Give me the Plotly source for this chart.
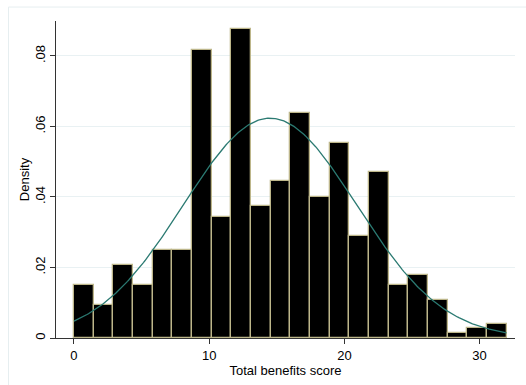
import numpy as np
import plotly.graph_objects as go

# Histogram of total benefits score (density scale), 22 equal-width bins on [0, 32]
bin_start = 0.0
bin_end = 32.0
n_bins = 22
density = [0.0150, 0.0095, 0.0206, 0.0150, 0.0249, 0.0249, 0.0818, 0.0344,
           0.0875, 0.0373, 0.0444, 0.0638, 0.0401, 0.0554, 0.0290, 0.0471,
           0.0150, 0.0179, 0.0109, 0.0013, 0.0027, 0.0041]

# Fitted normal overlay parameters
norm_mean = 14.5
norm_sd = 6.4

x_ticks = [0, 10, 20, 30]
x_tick_text = ["0", "10", "20", "30"]
y_ticks = [0, 0.02, 0.04, 0.06, 0.08]
y_tick_text = ["0", ".02", ".04", ".06", ".08"]

edges = np.linspace(bin_start, bin_end, n_bins + 1)
width = edges[1] - edges[0]
centers = (edges[:-1] + edges[1:]) / 2

xs = np.linspace(bin_start, bin_end, 300)
ys = np.exp(-0.5 * ((xs - norm_mean) / norm_sd) ** 2) / (norm_sd * np.sqrt(2 * np.pi))

font = "Liberation Sans, Arial, sans-serif"

fig = go.Figure()
fig.add_trace(go.Bar(
    x=centers, y=density, width=width,
    marker=dict(color="black", line=dict(color="#bdb68a", width=1.3)),
    hoverinfo="x+y",
))
fig.add_trace(go.Scatter(
    x=xs, y=ys, mode="lines",
    line=dict(color="#2b7a72", width=1.3),
    hoverinfo="skip",
))

fig.update_layout(
    width=526, height=385,
    margin=dict(l=56, r=11, t=21, b=47),
    paper_bgcolor="white", plot_bgcolor="white",
    showlegend=False, bargap=0,
    font=dict(family=font, size=13, color="black"),
    xaxis=dict(
        range=[-1.33, 32.62],
        tickmode="array", tickvals=x_ticks, ticktext=x_tick_text,
        ticks="outside", ticklen=5, tickcolor="#333333", tickwidth=1,
        showline=True, linecolor="#333333", linewidth=1,
        showgrid=False, zeroline=False,
        title=dict(text="Total benefits score", standoff=0, font=dict(size=13)),
        tickfont=dict(size=13),
    ),
    yaxis=dict(
        range=[0, 0.0899],
        tickmode="array", tickvals=y_ticks, ticktext=y_tick_text,
        tickangle=-90,
        ticks="outside", ticklen=5, tickcolor="#333333", tickwidth=1,
        showline=True, linecolor="#333333", linewidth=1,
        showgrid=True, gridcolor="#e9f1f3", gridwidth=1,
        zeroline=False,
        title=dict(text="Density", standoff=0, font=dict(size=13)),
        tickfont=dict(size=13),
    ),
    shapes=[dict(
        type="rect", xref="paper", yref="paper",
        x0=-0.1035, x1=1.05, y0=-0.2, y1=1.044,
        line=dict(color="#e6eef0", width=1), fillcolor="rgba(0,0,0,0)",
        layer="below",
    )],
)

fig.write_html("out.html")
